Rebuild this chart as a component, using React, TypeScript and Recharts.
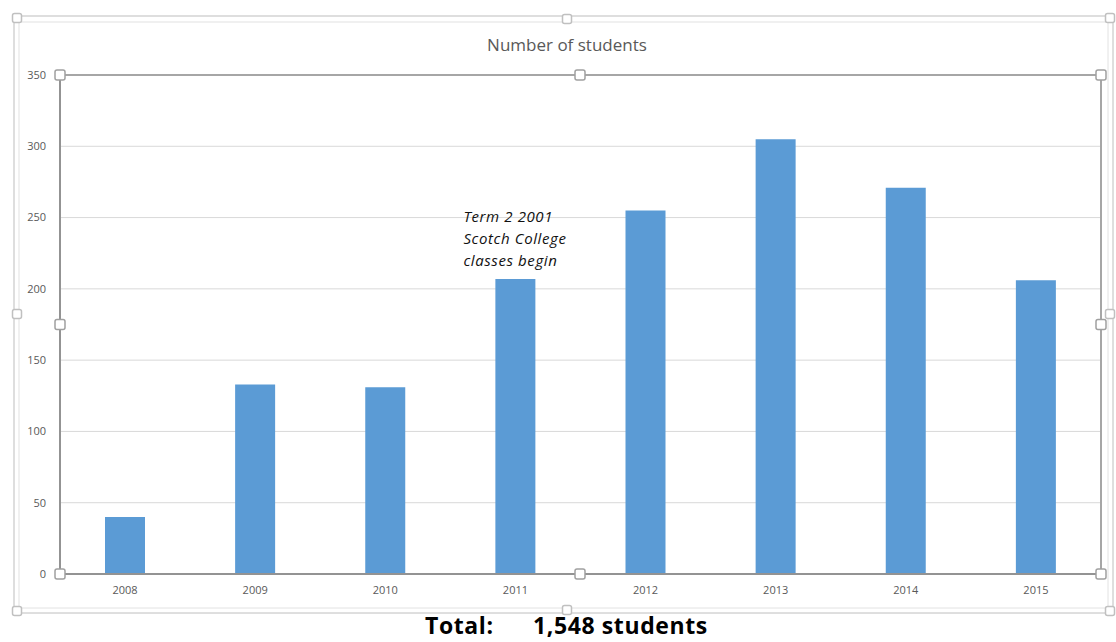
import React from 'react';
import {
  BarChart,
  Bar,
  XAxis,
  YAxis,
  CartesianGrid,
  ReferenceDot,
} from 'recharts';

const years = ['2008', '2009', '2010', '2011', '2012', '2013', '2014', '2015'];
const students = [40, 133, 131, 207, 255, 305, 271, 206];
const yTicks = [0, 50, 100, 150, 200, 250, 300, 350];
const noteLines = ['Term 2 2001', 'Scotch College', 'classes begin'];

const data = years.map((year, i) => ({ year, students: students[i] }));

const W = 1116;
const H = 642;
const FONT = '"Open Sans", "Noto Sans", sans-serif';

// plot box (Excel-style selection frame)
const PL = 60;
const PT = 75;
const PR = 1101;
const PB = 574;

function Handle({ x, y, s = 9, stroke = '#a0a0a0' }: { x: number; y: number; s?: number; stroke?: string }) {
  return (
    <rect
      x={x - s / 2}
      y={y - s / 2}
      width={s}
      height={s}
      rx={2}
      fill="#fff"
      stroke={stroke}
      strokeWidth={1.5}
    />
  );
}

function NoteLabel(props: any) {
  const { viewBox } = props;
  const x = viewBox.x - 52;
  const y = viewBox.y + 4;
  return (
    <text
      x={x}
      y={y}
      fontFamily={FONT}
      fontStyle="italic"
      fontSize={15}
      letterSpacing={0.6}
      fill="#111"
    >
      {noteLines.map((t, i) => (
        <tspan key={i} x={x} dy={i === 0 ? 0 : 22}>
          {t}
        </tspan>
      ))}
    </text>
  );
}

export default function App() {
  const midY = (PT + PB) / 2;
  return (
    <div style={{ position: 'absolute', left: 0, top: 0, width: W, height: H, background: '#fff' }}>
      <BarChart
        width={W}
        height={H}
        data={data}
        margin={{ top: PT, right: W - PR, bottom: 36, left: 0 }}
        barCategoryGap={0}
      >
        <CartesianGrid vertical={false} stroke="#d9d9d9" strokeWidth={1} />
        <XAxis
          dataKey="year"
          axisLine={false}
          tickLine={false}
          height={32}
          tickMargin={6}
          tick={{ fontSize: 11, fill: '#595959', fontFamily: FONT }}
        />
        <YAxis
          width={PL}
          domain={[0, 350]}
          ticks={yTicks}
          axisLine={false}
          tickLine={false}
          tickMargin={8}
          tick={{ fontSize: 11, fill: '#595959', fontFamily: FONT }}
        />
        <Bar dataKey="students" fill="#5b9bd5" barSize={40} isAnimationActive={false} />
        <ReferenceDot x="2011" y={250} r={0} fill="none" stroke="none" label={<NoteLabel />} />
      </BarChart>

      <svg
        width={W}
        height={H}
        style={{ position: 'absolute', left: 0, top: 0, pointerEvents: 'none' }}
      >
        {/* outer chart frame */}
        <rect x={14} y={16} width={1099} height={597} fill="none" stroke="#d4d4d4" strokeWidth={1.5} />
        <rect x={19} y={22} width={1089} height={586} fill="none" stroke="#e2e2e2" strokeWidth={1} />
        <Handle x={17} y={18} stroke="#c0c0c0" />
        <Handle x={567} y={19} stroke="#c0c0c0" />
        <Handle x={1110} y={18} stroke="#c0c0c0" />
        <Handle x={17} y={314} stroke="#c0c0c0" />
        <Handle x={1110} y={314} stroke="#c0c0c0" />
        <Handle x={17} y={611} stroke="#c0c0c0" />
        <Handle x={567} y={610} stroke="#c0c0c0" />
        <Handle x={1110} y={611} stroke="#c0c0c0" />

        <text
          x={567}
          y={51}
          textAnchor="middle"
          fontFamily={FONT}
          fontSize={17}
          fill="#595959"
        >
          Number of students
        </text>

        {/* plot area frame */}
        <rect x={PL} y={PT} width={PR - PL} height={PB - PT} fill="none" stroke="#a6a6a6" strokeWidth={2} />
        <line x1={PL} y1={PT} x2={PL} y2={PB} stroke="#8c8c8c" strokeWidth={1.5} />
        <line x1={PL} y1={PB} x2={PR} y2={PB} stroke="#8c8c8c" strokeWidth={1.5} />
        <Handle x={PL} y={PT} s={10} />
        <Handle x={580} y={PT} s={10} />
        <Handle x={PR} y={PT} s={10} />
        <Handle x={PL} y={midY} s={10} />
        <Handle x={PR} y={midY} s={10} />
        <Handle x={PL} y={PB} s={10} />
        <Handle x={580} y={PB} s={10} />
        <Handle x={PR} y={PB} s={10} />
      </svg>

      <div
        style={{
          position: 'absolute',
          left: 425,
          top: 610,
          fontFamily: FONT,
          fontWeight: 700,
          fontSize: 23,
          letterSpacing: 0.6,
          color: '#000',
          whiteSpace: 'pre',
          lineHeight: '30px',
        }}
      >
        {'Total:      1,548 students'}
      </div>
    </div>
  );
}
